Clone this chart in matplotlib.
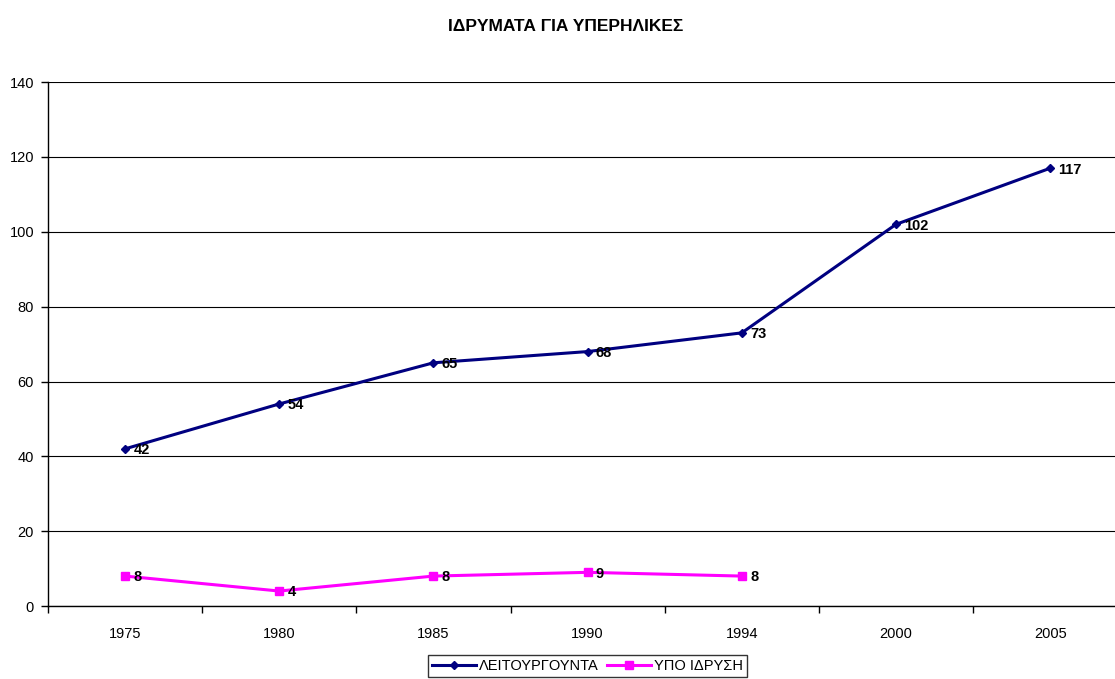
import matplotlib
matplotlib.use("Agg")
import matplotlib.pyplot as plt
import numpy as np

plt.rcParams['font.family'] = ['Liberation Sans', 'DejaVu Sans']

# ----------------- data -----------------
years = ['1975', '1980', '1985', '1990', '1994', '2000', '2005']
leitourgounta = [42, 54, 65, 68, 73, 102, 117]
ypo_idrysi = [8, 4, 8, 9, 8]

fig = plt.figure(figsize=(11.15, 6.79), dpi=100)
ax = fig.add_axes([0.043, 0.1075, 0.968, 0.7715])

x1 = np.arange(len(leitourgounta))
x2 = np.arange(len(ypo_idrysi))

ax.plot(x1, leitourgounta, color='#000080', lw=2.2, marker='D', ms=4,
        label='ΛΕΙΤΟΥΡΓΟΥΝΤΑ')
ax.plot(x2, ypo_idrysi, color='#FF00FF', lw=2.2, marker='s', ms=6,
        label='ΥΠΟ ΙΔΡΥΣΗ')

for xi, v in zip(x1, leitourgounta):
    ax.annotate(str(v), (xi, v), xytext=(6, -1), textcoords='offset points',
                fontsize=10.5, fontweight='bold', va='center', ha='left')
for xi, v in zip(x2, ypo_idrysi):
    ax.annotate(str(v), (xi, v), xytext=(6, -1), textcoords='offset points',
                fontsize=10.5, fontweight='bold', va='center', ha='left')

ax.set_xlim(-0.5, len(years) - 0.5)
ax.set_ylim(0, 140)
ax.set_yticks(range(0, 141, 20))
ax.set_xticks(x1)
ax.set_xticklabels(years)
ax.set_xticks(np.arange(-0.5, len(years), 1), minor=True)
ax.tick_params(axis='x', which='major', length=0, pad=15, labelsize=10.5)
ax.tick_params(axis='x', which='minor', length=5, width=1, direction='out')
ax.tick_params(axis='y', length=5, width=1, labelsize=10.5, pad=5)

ax.yaxis.grid(True, color='black', lw=0.8)
ax.set_axisbelow(True)
for side in ['top', 'right']:
    ax.spines[side].set_visible(False)
ax.spines['left'].set_linewidth(1)
ax.spines['bottom'].set_linewidth(1)

fig.suptitle('ΙΔΡΥΜΑΤΑ ΓΙΑ ΥΠΕΡΗΛΙΚΕΣ', x=0.507, y=0.972, fontsize=12.5,
             fontweight='bold')

leg = fig.legend(loc='center', bbox_to_anchor=(0.527, 0.019), ncol=2,
                 fontsize=10.5, frameon=True, fancybox=False, edgecolor='black',
                 handlelength=3, handletextpad=0.2, columnspacing=0.6,
                 borderpad=0.3)
leg.get_frame().set_linewidth(1)

fig.savefig('out.png', dpi=100)
